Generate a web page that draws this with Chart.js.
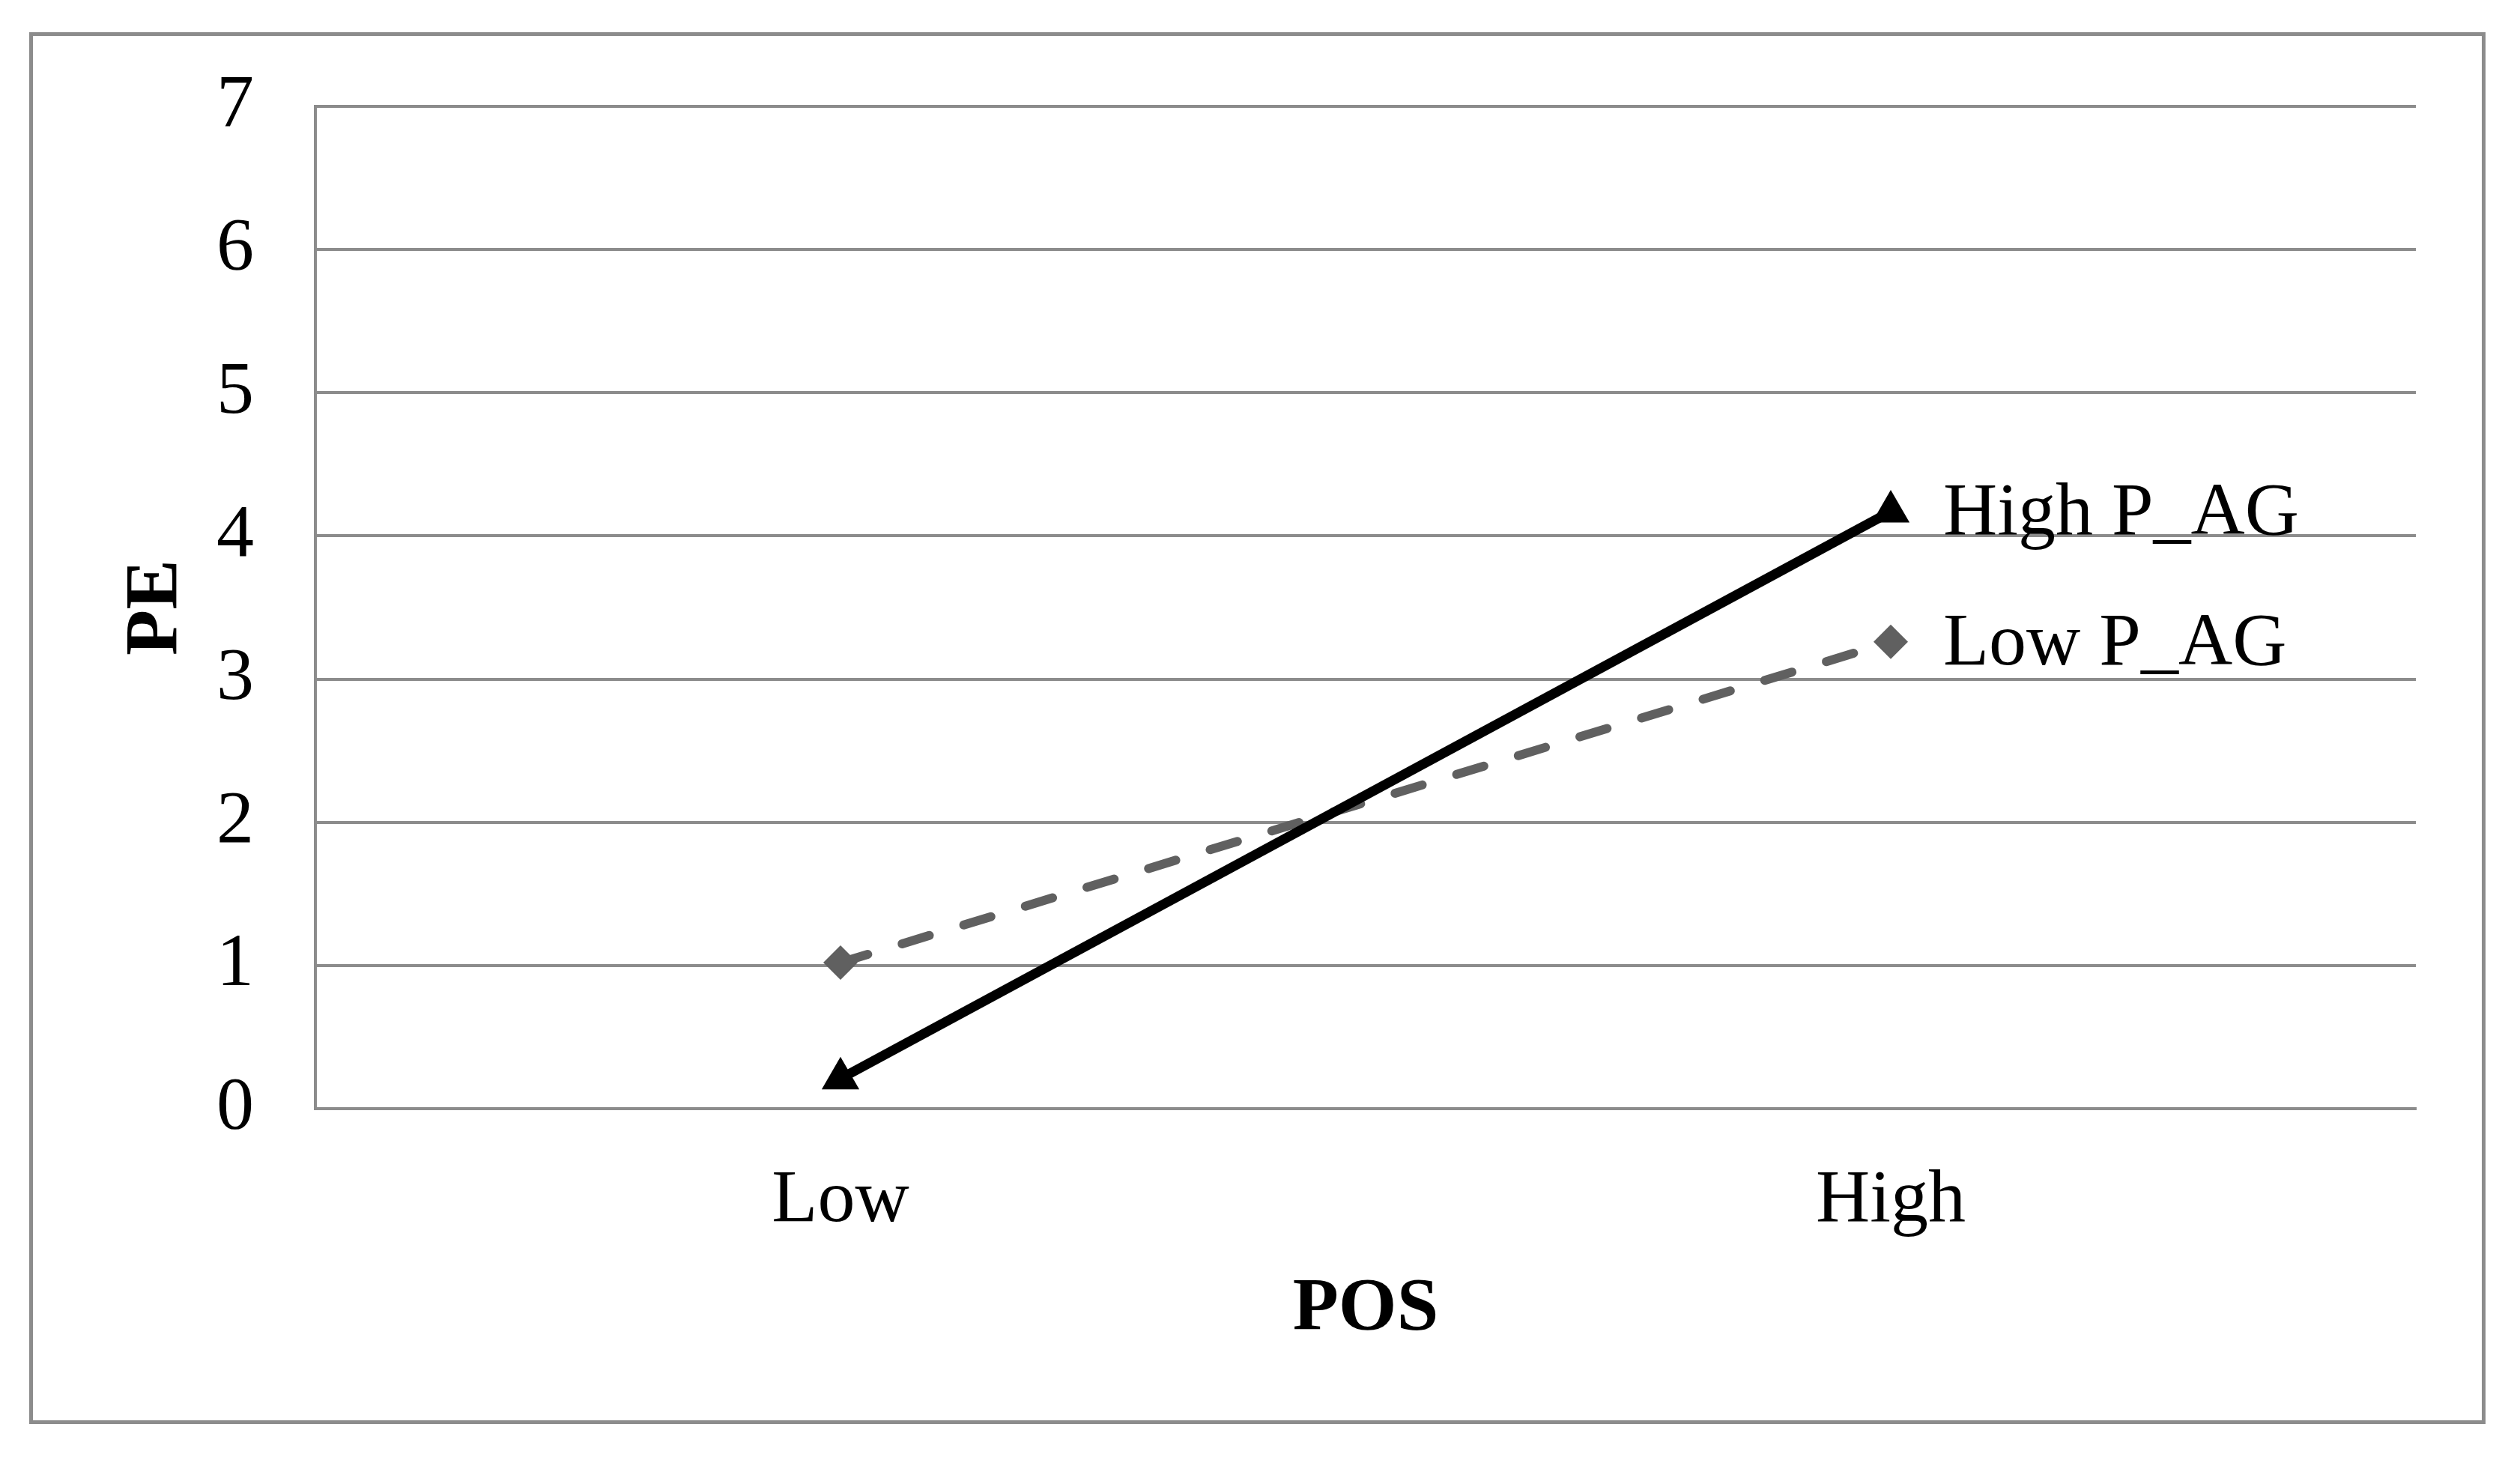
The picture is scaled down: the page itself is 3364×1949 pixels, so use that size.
<!DOCTYPE html>
<html>
<head>
<meta charset="utf-8">
<script src="https://cdn.jsdelivr.net/npm/chart.js@4.4.1/dist/chart.umd.min.js"></script>
<style>
  html, body { margin: 0; padding: 0; background: #ffffff; }
  #wrap { position: relative; width: 3364px; height: 1949px; }
</style>
</head>
<body>
<div id="wrap"><canvas id="myChart" width="3364" height="1949"></canvas></div>
<script>
// data
var categories = ["Low", "High"];
var seriesNames = ["High P_AG", "Low P_AG"];
var highAG = [0.21, 4.17];
var lowAG = [1.02, 3.26];
var yTicks = [0, 1, 2, 3, 4, 5, 6, 7];

var gridGray = "#8c8c8c";
var serif = "'Liberation Serif', 'Times New Roman', serif";

// outer frame around the whole chart
var framePlugin = {
  id: "frame",
  beforeDraw: function (chart) {
    var ctx = chart.ctx;
    ctx.save();
    ctx.fillStyle = "#ffffff";
    ctx.fillRect(0, 0, chart.width, chart.height);
    ctx.strokeStyle = gridGray;
    ctx.lineWidth = 5;
    ctx.strokeRect(41.5, 45.5, 3274, 1853);
    ctx.restore();
  }
};

// series names written next to the last point of each line
var endLabels = {
  id: "endLabels",
  afterDatasetsDraw: function (chart) {
    var ctx = chart.ctx;
    ctx.save();
    ctx.font = "100px " + serif;
    ctx.fillStyle = "#000000";
    ctx.textAlign = "left";
    ctx.textBaseline = "middle";
    chart.data.datasets.forEach(function (ds, i) {
      var meta = chart.getDatasetMeta(i);
      var pt = meta.data[meta.data.length - 1];
      ctx.fillText(ds.label, pt.x + 70, pt.y + 4);
    });
    ctx.restore();
  }
};

new Chart("myChart", {
  type: "line",
  data: {
    labels: categories,
    datasets: [{
      label: seriesNames[0],
      data: highAG,
      borderColor: "#000000",
      backgroundColor: "#000000",
      borderWidth: 13,
      pointStyle: "triangle",
      pointRadius: 29,
      pointBorderWidth: 0,
      tension: 0
    }, {
      label: seriesNames[1],
      data: lowAG,
      borderColor: "#606060",
      backgroundColor: "#606060",
      borderWidth: 12,
      borderDash: [38, 48],
      borderCapStyle: "round",
      pointStyle: "rectRot",
      pointRadius: 23,
      pointBorderWidth: 0,
      tension: 0
    }]
  },
  options: {
    responsive: false,
    animation: false,
    layout: { padding: { left: 110, right: 139, top: 133, bottom: 119 } },
    plugins: {
      legend: { display: false },
      tooltip: { enabled: false }
    },
    scales: {
      x: {
        offset: true,
        grid: { display: false, drawTicks: false },
        border: { display: true, color: gridGray, width: 4 },
        ticks: { color: "#000000", font: { family: serif, size: 100 }, padding: 64 },
        title: {
          display: true, text: "POS", color: "#000000",
          font: { family: serif, size: 100, weight: "bold" },
          padding: { top: 0, bottom: 22 }
        },
        afterFit: function (scale) { scale.height = 350; }
      },
      y: {
        min: 0,
        max: 7,
        afterBuildTicks: function (scale) {
          scale.ticks = yTicks.map(function (v) { return { value: v }; });
        },
        grid: { color: gridGray, lineWidth: 4, drawTicks: false, tickLength: 0 },
        border: { display: true, color: gridGray, width: 4 },
        ticks: { color: "#000000", font: { family: serif, size: 100 }, padding: 82 },
        title: {
          display: true, text: "PE", color: "#000000",
          font: { family: serif, size: 100, weight: "bold" },
          padding: { top: 39, bottom: 0 }
        },
        afterFit: function (scale) { scale.width = 311; }
      }
    }
  },
  plugins: [framePlugin, endLabels]
});
</script>
</body>
</html>
